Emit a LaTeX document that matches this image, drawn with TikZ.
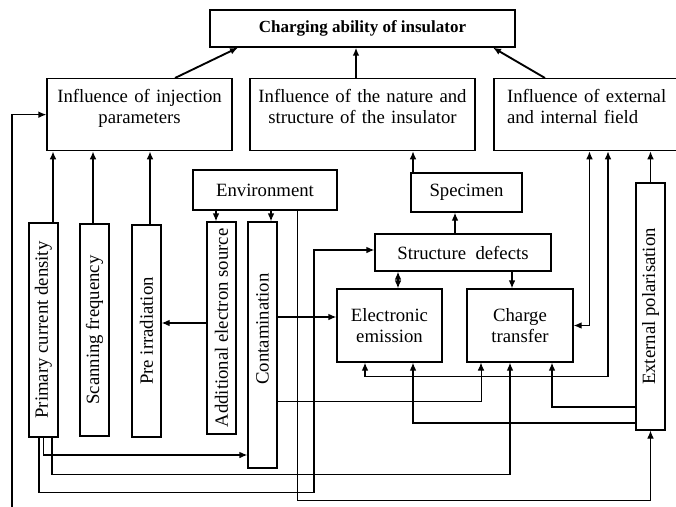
\documentclass[tikz,border=0pt]{standalone}
\usepackage{fontspec}
\setmainfont{Liberation Serif}
\usepackage{graphicx}
\usetikzlibrary{arrows.meta,calc}
\newcommand{\pxu}{0.03cm}

\begin{document}
\begin{tikzpicture}[
  x=0.03cm, y=-0.03cm,
  every node/.style={font=\fontsize{16pt}{18pt}\selectfont},
  box/.style={draw, line width=1.1pt, inner sep=0pt, align=center},
  topbox/.style={draw, line width=1.1pt, anchor=north, inner xsep=4*\pxu, inner ysep=0pt, text height=24*\pxu, text depth=48*\pxu},
  vbox/.style={draw, line width=1.1pt, inner sep=0pt, minimum width=29*\pxu},
  arrow/.style={-{Latex[length=2.4mm,width=2mm]}, line width=1.1pt},
  dblarrow/.style={{Latex[length=2.4mm,width=2mm]}-{Latex[length=2.4mm,width=2mm]}, line width=1.1pt},
  mainarrow/.style={arrow, line width=1.6pt},
  thinarrow/.style={arrow, line width=0.8pt}
]
\useasboundingbox (0,0) rectangle (676,507);
\node[box, minimum width=305*\pxu, minimum height=37*\pxu, font=\fontsize{14.5pt}{17pt}\selectfont\bfseries] (charging) at (362.5,28.5) {Charging ability of insulator};
\node[topbox, text width=177*\pxu, align=center] (inject) at (139.5,78) {Influence of injection\\parameters};
\node[topbox, text width=217*\pxu, align=center] (nature) at (362.5,78) {Influence of the nature and\\structure of the insulator};
\node[topbox, inner xsep=13*\pxu, text width=165*\pxu, align=left] (extern) at (589.5,78) {Influence of external\\and internal field};
\node[box, minimum width=144*\pxu, minimum height=40*\pxu] (env) at (265,190) {Environment};
\node[box, minimum width=111*\pxu, minimum height=39*\pxu] (spec) at (466.5,192.5) {Specimen};
\node[box, minimum width=176*\pxu, minimum height=37*\pxu] (struct) at (463,252.5) {Structure\ \ defects};
\node[box, minimum width=105*\pxu, minimum height=73*\pxu] (emis) at (389.5,325.5) {Electronic\\emission};
\node[box, minimum width=106*\pxu, minimum height=73*\pxu] (trans) at (520,325.5) {Charge\\transfer};
\node[vbox, minimum height=214*\pxu] (prim) at (43.5,330) {\rotatebox{90}{Primary current density}};
\node[vbox, minimum height=212*\pxu] (scan) at (94.5,330) {\rotatebox{90}{Scanning frequency}};
\node[vbox, minimum height=212*\pxu] (preirr) at (146.5,331) {\rotatebox{90}{Pre irradiation}};
\node[vbox, minimum height=212*\pxu] (addsrc) at (221.5,328) {\rotatebox{90}{Additional electron source}};
\node[vbox, minimum height=246*\pxu, text depth=32*\pxu] (cont) at (262.5,345) {\rotatebox{90}{Contamination}};
\node[vbox, minimum height=247*\pxu] (expol) at (650.5,306.5) {\rotatebox{90}{External polarisation}};
\coordinate (feedback) at (12,512);

\draw[mainarrow] ([xshift=35.5*\pxu]inject.north) -- ([xshift=-124.5*\pxu]charging.south);
\draw[mainarrow] ([xshift=-6.5*\pxu]nature.north) -- ([xshift=-6.5*\pxu]charging.south);
\draw[mainarrow] ([xshift=-44.5*\pxu]extern.north) -- ([xshift=130.5*\pxu]charging.south);
\draw[mainarrow] ([xshift=9.5*\pxu]prim.north) -- ([xshift=9.5*\pxu]prim.north |- inject.south);
\draw[mainarrow] ([xshift=-1.5*\pxu]scan.north) -- ([xshift=-1.5*\pxu]scan.north |- inject.south);
\draw[mainarrow] ([xshift=3.5*\pxu]preirr.north) -- ([xshift=3.5*\pxu]preirr.north |- inject.south);
\draw[arrow] (feedback) |- (inject.west);
\draw[arrow] ([xshift=-5.5*\pxu]addsrc.north |- env.south) -- ([xshift=-5.5*\pxu]addsrc.north);
\draw[arrow] ([xshift=8.5*\pxu]cont.north |- env.south) -- ([xshift=8.5*\pxu]cont.north);
\draw[thinarrow] ([xshift=32*\pxu]env.south) -- ++(0,290) -| (expol.south);
\draw[arrow] ([yshift=5*\pxu]addsrc.west) -- ([yshift=5*\pxu]addsrc.west -| preirr.east);
\draw[arrow] ([yshift=28*\pxu]cont.east) -- ([yshift=28*\pxu]cont.east -| emis.west);
\draw[thinarrow] ([yshift=-56*\pxu]cont.east) -| ([xshift=-39*\pxu]trans.south);
\draw[arrow] (prim.south) |- ([yshift=-110*\pxu]cont.west);
\draw[arrow] ([xshift=8.5*\pxu]prim.south) -- ++(0,37) -| ([xshift=-10*\pxu]trans.south);
\draw[arrow] ([xshift=-4.5*\pxu]prim.south) -- ++(0,55) -- ++(275,0) |- ([yshift=2.5*\pxu]struct.west);
\draw[arrow] ([xshift=-53.5*\pxu]spec.north) -- ([xshift=-53.5*\pxu]spec.north |- nature.south);
\draw[arrow] ([xshift=-8*\pxu]struct.north) -- ([xshift=-8*\pxu]struct.north |- spec.south);
\draw[dblarrow] ([xshift=8.5*\pxu]emis.north) -- ([xshift=8.5*\pxu]emis.north |- struct.south);
\draw[arrow] ([xshift=-8*\pxu]trans.north |- struct.south) -- ([xshift=-8*\pxu]trans.north);
\draw[dblarrow] (trans.east) -| (extern.south);
\draw[dblarrow] ([xshift=-24.5*\pxu]emis.south) -- ++(0,14) -| ([xshift=18.5*\pxu]extern.south);
\draw[arrow] (expol.north) -- (expol.north |- extern.south);
\draw[arrow] ([yshift=-100.5*\pxu]expol.west) -| ([xshift=32*\pxu]trans.south);
\draw[arrow] ([yshift=-116.5*\pxu]expol.west) -| ([xshift=23.5*\pxu]emis.south);
\end{tikzpicture}
\end{document}
